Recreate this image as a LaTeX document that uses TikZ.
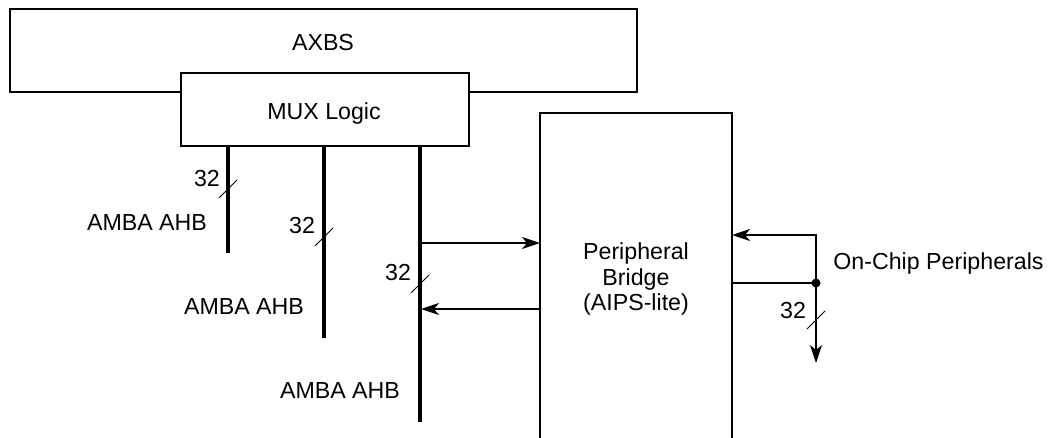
\documentclass[tikz,border=0pt]{standalone}
\usepackage{fontspec}
\setmainfont{Liberation Sans}
\usetikzlibrary{arrows.meta}
\begin{document}
\begin{tikzpicture}[x=0.5pt,y=-0.5pt,
  box/.style={draw,line width=0.9pt,fill=white,inner sep=0pt,anchor=north west},
  bus/.style={line width=2pt},
  sig/.style={line width=0.9pt},
  tip/.style={-{Stealth[length=9pt,width=6pt,inset=2.5pt]}},
  slash/.style={line width=0.5pt},
  lbl/.style={font=\fontsize{11.6pt}{12.85pt}\selectfont,inner sep=0pt,align=center},
]
\useasboundingbox (0,0) rectangle (1053,438);
% AXBS and MUX
\node[box,minimum width=313.5pt,minimum height=41.5pt] (axbs) at (9,8) {};
\node[lbl] (axbst) at (323,43) {AXBS};
\node[box,minimum width=144pt,minimum height=36.5pt] (mux) at (180,72) {};
\node[lbl] (muxt) at (324,114) {MUX Logic};
% Peripheral bridge (open at bottom)
\coordinate (pbnw) at (540,113);
\coordinate (pbne) at (732,113);
\coordinate (pbsw) at (540,445);
\coordinate (pbse) at (732,445);
\draw[sig] (pbsw) -- (pbnw) -- (pbne) -- (pbse);
\node[lbl] (pb) at (636,279) {Peripheral\\Bridge\\(AIPS-lite)};
% buses
\coordinate (b1t) at (228,145); \coordinate (b1b) at (228,253);
\coordinate (b2t) at (324,145); \coordinate (b2b) at (324,338);
\coordinate (b3t) at (420,145); \coordinate (b3b) at (420,422);
\draw[bus] (b1t) -- (b1b);
\draw[bus] (b2t) -- (b2b);
\draw[bus] (b3t) -- (b3b);
% slashes and widths
\coordinate (s1) at (228,189);
\coordinate (s2) at (324,237);
\coordinate (s3) at (420,284);
\coordinate (s4) at (816,320);
\foreach \s in {s1,s2,s3,s4} \draw[slash] (\s) +(-9,9) -- +(9,-9);
\node[lbl] (w1) at (207,179) {32};
\node[lbl] (w2) at (302,226) {32};
\node[lbl] (w3) at (398,273) {32};
\node[lbl] (w4) at (793,311) {32};
\node[lbl] (l1) at (147,223) {AMBA AHB};
\node[lbl] (l2) at (244,307) {AMBA AHB};
\node[lbl] (l3) at (340,391) {AMBA AHB};
% bus 3 <-> bridge
\coordinate (a1) at (421,243);
\coordinate (a2) at (421,309);
\draw[sig,tip] (a1) -- (a1 -| pbnw);
\draw[sig,tip] (a2 -| pbnw) -- (a2);
% on-chip peripherals
\node[circle,fill,inner sep=0pt,minimum size=4.5pt] (dot) at (816,283) {};
\coordinate (up) at (816,235);
\coordinate (dn) at (816,363);
\draw[sig] (dot -| pbne) -- (dot.center);
\draw[sig,tip] (dot.center) -- (up) -- (up -| pbne);
\draw[sig,tip] (dot.center) -- (dn);
\node[lbl,anchor=west] (ocp) at (833,264) {On-Chip Peripherals};
\end{tikzpicture}
\end{document}
